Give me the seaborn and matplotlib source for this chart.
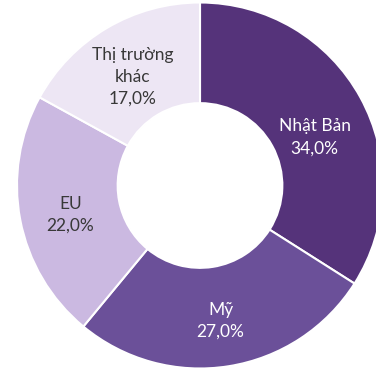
import matplotlib
matplotlib.use("Agg")
import matplotlib.pyplot as plt
import matplotlib.transforms as mtransforms
import seaborn as sns
import numpy as np

categories = ["Nhật Bản", "Mỹ", "EU", "Thị trường\nkhác"]
values = [34.0, 27.0, 22.0, 17.0]
colors = ["#55337a", "#6b5099", "#cbb9e1", "#ede6f4"]
text_colors = ["white", "white", "#383838", "#383838"]

sns.set_theme(style="white")
plt.rcParams['font.family'] = ['Lato', 'DejaVu Sans']

fig = plt.figure(figsize=(3.76, 3.71), dpi=100)
ax = fig.add_axes([17/376, 2.5/371, 366/376, 366/371])

labels = [f"{c}\n{v:.1f}%".replace(".", ",") for c, v in zip(categories, values)]
wedges, texts = ax.pie(values, labels=labels, colors=colors, startangle=90,
                       counterclock=False, radius=1.0, labeldistance=0.72,
                       wedgeprops=dict(width=0.55, edgecolor="white", linewidth=1.5),
                       textprops=dict(fontsize=12.5))
shift = mtransforms.offset_copy(ax.transData, fig=fig, x=0, y=-3.5, units="points")
for t, tc in zip(texts, text_colors):
    t.set_color(tc)
    t.set_ha("center")
    t.set_va("center")
    t.set_multialignment("center")
    t.set_linespacing(1.45)
    t.set_transform(shift)

# the first label sits a little lower in its wedge (visible part of a cropped ring)
w0 = wedges[0]
ang = np.deg2rad((w0.theta1 + w0.theta2) / 2 - 4)
texts[0].set_position((0.69 * np.cos(ang), 0.69 * np.sin(ang)))

ax.set_xlim(-1, 1)
ax.set_ylim(-1, 1)
ax.set_aspect("equal")
ax.axis("off")
fig.savefig("out.png", dpi=100)
